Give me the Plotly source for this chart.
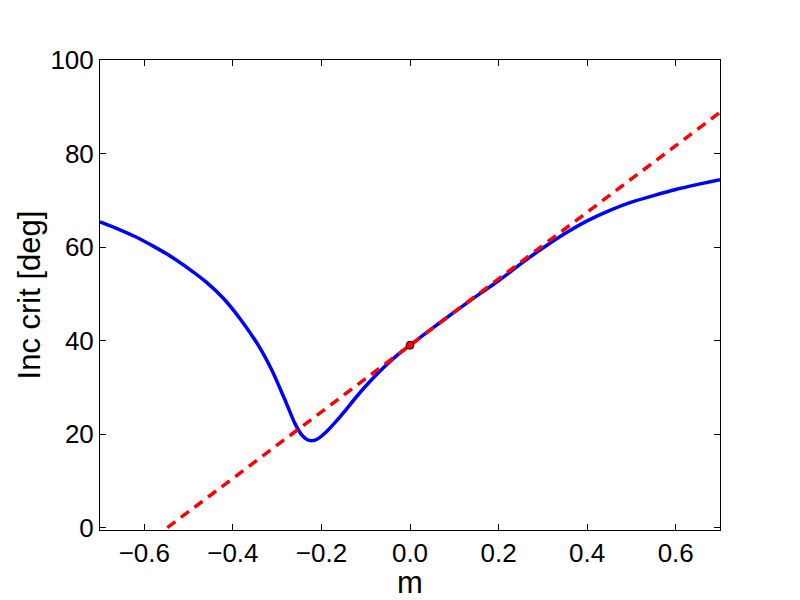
import plotly.graph_objects as go

# Blue curve: critical inclination vs m
m_curve = [-0.70, -0.66, -0.62, -0.58, -0.54, -0.50, -0.46, -0.42, -0.38, -0.34,
           -0.31, -0.28, -0.26, -0.245, -0.232, -0.222, -0.21, -0.19, -0.17, -0.15,
           -0.12, -0.09, -0.06, -0.03, 0.00, 0.05, 0.10, 0.15, 0.20, 0.25,
           0.30, 0.35, 0.40, 0.45, 0.50, 0.55, 0.60, 0.65, 0.70]
inc_curve = [65.4, 63.9, 62.2, 60.2, 58.0, 55.4, 52.5, 48.9, 44.2, 38.6,
             33.3, 26.8, 22.3, 19.9, 18.8, 18.6, 18.9, 20.4, 22.4, 24.6,
             28.1, 31.3, 34.2, 36.8, 39.0, 42.6, 46.1, 49.5, 52.8, 56.4,
             59.8, 62.9, 65.6, 67.8, 69.6, 71.0, 72.3, 73.4, 74.4]

# Red dashed linear approximation
m_lin = [-0.548, 0.70]
inc_lin = [0.0, 88.8]

# Red point at m = 0
m_pt = [0.0]
inc_pt = [39.0]

x_ticks = [-0.6, -0.4, -0.2, 0.0, 0.2, 0.4, 0.6]
x_tick_labels = ["\u22120.6", "\u22120.4", "\u22120.2", "0.0", "0.2", "0.4", "0.6"]
y_ticks = [0, 20, 40, 60, 80, 100]

fig = go.Figure()
fig.add_trace(go.Scatter(x=m_curve, y=inc_curve, mode="lines",
                         line=dict(color="#0000ff", width=3.5, shape="spline", smoothing=0.6),
                         showlegend=False))
fig.add_trace(go.Scatter(x=m_lin, y=inc_lin, mode="lines",
                         line=dict(color="#ff0000", width=3.5, dash="10px,7px"),
                         showlegend=False))
fig.add_trace(go.Scatter(x=m_pt, y=inc_pt, mode="markers",
                         marker=dict(color="#ff0000", size=8, line=dict(color="#400000", width=1)),
                         showlegend=False))

font = dict(family="Liberation Sans, Arial, sans-serif", size=26, color="black")
fig.update_layout(
    width=792, height=592,
    margin=dict(l=92, r=80, t=52, b=70),
    paper_bgcolor="white", plot_bgcolor="white",
    font=font,
    xaxis=dict(range=[-0.7, 0.7], tickvals=x_ticks, ticktext=x_tick_labels,
               ticks="inside", ticklen=6, tickcolor="black", mirror="ticks",
               showline=True, linecolor="black", linewidth=1, showgrid=False,
               zeroline=False, automargin=False, title=dict(text="m", standoff=0)),
    yaxis=dict(range=[-0.5, 100], tickvals=y_ticks,
               ticks="inside", ticklen=6, tickcolor="black", mirror="ticks",
               showline=True, linecolor="black", linewidth=1, showgrid=False,
               zeroline=False, automargin=False, title=dict(text="Inc crit [deg]", standoff=0)),
)
fig.write_html("out.html")
